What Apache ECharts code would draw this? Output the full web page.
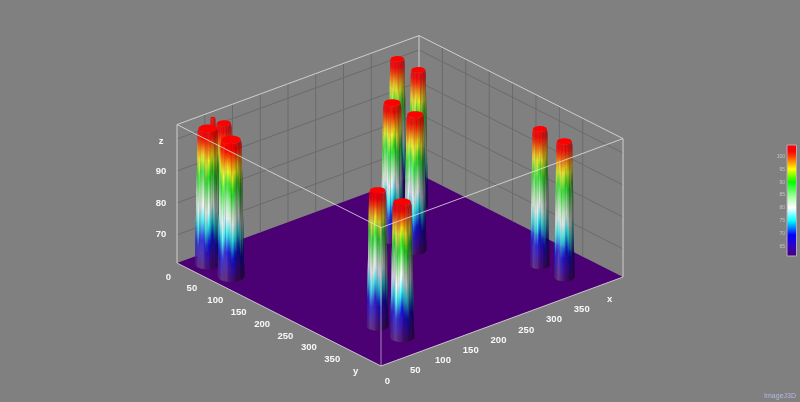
<!DOCTYPE html>
<html><head><meta charset="utf-8">
<style>html,body{margin:0;padding:0;background:#808080}#c{width:800px;height:402px;filter:blur(.55px)}</style>
<script src="https://cdn.jsdelivr.net/npm/echarts@6/dist/echarts.min.js"></script>
</head><body><div id="c"></div>
<script>
// ---------- data ----------
const peakX   = [79, 82, 274, 275, 370, 369, 374, 375, 30, 29, 52, 55];
const peakY   = [335, 384, 135, 183, 32, 78, 332, 383, 30, 81, 15, 35];
const peakTop = [103.6, 103.4, 103.8, 103.6, 103.8, 103.8, 103.8, 103.6, 103.6, 103.9, 104.4, 104];
const peakRad = [11.7, 13, 12.4, 12, 10, 10.3, 10.3, 11, 13.8, 14.5, 3.5, 10.5];
const xTicks = [0, 50, 100, 150, 200, 250, 300, 350];
const yTicks = [0, 50, 100, 150, 200, 250, 300, 350];
const zTicks = [70, 80, 90];
const zGrid  = [70, 80, 90, 100];
const legendTicks = [65, 70, 75, 80, 85, 90, 95, 100];
const xMax = 436, yMax = 436, zMin = 61.2, zMax = 104.5;
const ramp = [[61.2,[75,0,115]],[65,[50,0,190]],[69.5,[0,0,255]],[75,[0,255,255]],[80,[255,255,255]],[84,[170,255,170]],[90,[0,255,0]],[95,[255,255,0]],[100,[255,60,0]],[102,[255,0,0]],[104.5,[255,0,0]]];

// ---------- view ----------
const O = [177, 263], EX = [242/xMax, -89/xMax], EY = [204/yMax, 103/yMax], EZ = 138.4/(zMax-zMin);
const proj = (x,y,z) => [O[0]+x*EX[0]+y*EY[0], O[1]+x*EX[1]+y*EY[1]-(z-zMin)*EZ];
function colorAt(z){
  if(z<=ramp[0][0]) return ramp[0][1].slice();
  for(let i=1;i<ramp.length;i++) if(z<=ramp[i][0]){
    const t=(z-ramp[i-1][0])/(ramp[i][0]-ramp[i-1][0]);
    return ramp[i][1].map((c,k)=>ramp[i-1][1][k]+(c-ramp[i-1][1][k])*t);
  }
  return ramp[ramp.length-1][1].slice();
}
const css = c => 'rgb('+c.map(v=>Math.max(0,Math.min(255,Math.round(v)))).join(',')+')';
const line = (api,a,b,color,w) => { const p=api.coord(a), q=api.coord(b);
  return {type:'line',shape:{x1:p[0],y1:p[1],x2:q[0],y2:q[1]},style:{stroke:color,lineWidth:w||1}}; };
const txt = (api,pt,dx,dy,s) => { const p=api.coord(pt);
  return {type:'text',x:p[0]+dx,y:p[1]+dy,style:{text:String(s),fill:'#f8f8f8',font:'bold 9.5px "Liberation Sans"',align:'center',verticalAlign:'middle'}}; };

function renderBack(params,api){
  const ch=[]; const g='#6b6b6b';
  ch.push({type:'polygon',shape:{points:[proj(0,0,zMin),proj(xMax,0,zMin),proj(xMax,yMax,zMin),proj(0,yMax,zMin)].map(p=>api.coord(p))},style:{fill:css(colorAt(zMin))}});
  xTicks.forEach(x=>{ if(x>0) ch.push(line(api,proj(x,0,zMin),proj(x,0,zMax),g)); });
  yTicks.forEach(y=>{ if(y>0) ch.push(line(api,proj(xMax,y,zMin),proj(xMax,y,zMax),g)); });
  zGrid.forEach(z=>{ ch.push(line(api,proj(0,0,z),proj(xMax,0,z),g)); ch.push(line(api,proj(xMax,0,z),proj(xMax,yMax,z),g)); });
  const e='#cfcfcf';
  ch.push(line(api,proj(0,0,zMax),proj(xMax,0,zMax),e));
  ch.push(line(api,proj(xMax,0,zMax),proj(xMax,yMax,zMax),e));
  ch.push(line(api,proj(xMax,0,zMin),proj(xMax,0,zMax),e));
  ch.push(line(api,proj(0,0,zMin),proj(0,0,zMax),e));
  ch.push(line(api,proj(xMax,yMax,zMin),proj(xMax,yMax,zMax),e));
  return {type:'group',children:ch};
}
function renderPeak(params,api){
  const x=api.value(0), y=api.value(1), top=api.value(2), r=api.value(3), idx=api.value(4);
  const N=64, quads=[], span=Math.hypot(EX[0],EY[0]);
  const zShoulder=top-1.4;
  const rAt=z=> z>=top ? r*0.92 : r*(1.27-0.27*(z-zMin)/(zShoulder-zMin));
  for(let i=0;i<N;i++){
    const a=i/N*2*Math.PI, b=(i+1.3)/N*2*Math.PI, m=(a+b)/2;
    const depth=Math.cos(m)*EX[1]+Math.sin(m)*EY[1];
    if(depth<-0.06) continue;
    quads.push({a,b,m,depth,s:(Math.cos(m)*EX[0]+Math.sin(m)*EY[0])/span});
  }
  quads.sort((p,q)=>p.depth-q.depth);
  const ch=[];
  const at=(t,z)=>{const R=rAt(z); return api.coord(proj(x+R*Math.cos(t),y+R*Math.sin(t),z));};
  quads.forEach(q=>{
    const pts=[at(q.a,zMin),at(q.b,zMin),at(q.b,zShoulder),at(q.b,top),at(q.a,top),at(q.a,zShoulder)];
    const yT=Math.min(pts[3][1],pts[4][1]), yB=Math.max(pts[0][1],pts[1][1]);
    const streak=0.5*Math.sin(q.m*13+idx*2.1)+0.5*Math.sin(q.m*37+idx*4.7);
    const smear=1.4*Math.sin(q.m*7+idx*1.3)+0.8*Math.sin(q.m*17+idx*3.7);
    const dark=0.93-0.6*Math.pow(Math.max(0,q.s+0.1)/1.1,1.2)+0.16*streak;
    const white0=0.02+0.2*Math.exp(-Math.pow((q.s+0.55)/0.4,2))+0.05*Math.max(0,-streak);
    const stops=[];
    for(let k=0;k<=24;k++){
      const t=k/24, z=top+(zMin-top)*t;
      const fade=Math.min(1,Math.max(0,(top-z-3)/9));
      const low=Math.min(1,Math.max(0,(z-zMin)/5));
      const base=colorAt(z+smear*fade*(0.3+0.7*low));
      const lum=0.3*base[0]+0.59*base[1]+0.11*base[2];
      const desat=base.map(c=>c+(lum-c)*0.15*fade);
      const w=white0*fade, mm=1+(dark-1)*(0.55+0.45*fade);
      stops.push({offset:t,color:css(desat.map(c=>(c+(255-c)*w)*mm))});
    }
    ch.push({type:'polygon',shape:{points:pts},style:{fill:new echarts.graphic.LinearGradient(0,yT,0,yB,stops,true)}});
  });
  const cap=[]; for(let i=0;i<36;i++){cap.push(at(i/36*2*Math.PI,top));}
  ch.push({type:'polygon',shape:{points:cap},style:{fill:'#ff0000'}});
  return {type:'group',children:ch};
}
function renderFront(params,api){
  const e='rgba(226,226,226,0.8)', ch=[];
  ch.push(line(api,proj(0,0,zMax),proj(0,yMax,zMax),e));
  ch.push(line(api,proj(0,yMax,zMax),proj(xMax,yMax,zMax),e));
  ch.push(line(api,proj(0,yMax,zMin),proj(0,yMax,zMax),'rgba(226,226,226,0.6)'));
  ch.push(line(api,proj(0,0,zMin),proj(0,yMax,zMin),e));
  ch.push(line(api,proj(0,yMax,zMin),proj(xMax,yMax,zMin),e));
  xTicks.forEach(x=>ch.push(txt(api,proj(x,yMax,zMin),6.5,15,x)));
  yTicks.forEach(y=>ch.push(txt(api,proj(0,y,zMin),-8.5,14,y)));
  zTicks.forEach(z=>ch.push(txt(api,proj(0,0,z),-16,0,z)));
  ch.push(txt(api,proj(400,yMax,zMin),6.5,15,'x'));
  ch.push(txt(api,proj(0,400,zMin),-8.5,14,'y'));
  ch.push(txt(api,proj(0,0,100),-16,2,'z'));
  return {type:'group',children:ch};
}
function renderBar(params,api){
  const a=api.coord([0,zMax]), b=api.coord([1,zMin]);
  const stops=ramp.map(s=>({offset:(zMax-s[0])/(zMax-zMin),color:css(s[1])})).reverse();
  return {type:'rect',shape:{x:a[0],y:a[1],width:b[0]-a[0],height:b[1]-a[1]},style:{fill:new echarts.graphic.LinearGradient(0,0,0,1,stops),stroke:'#b9a7bb',lineWidth:1}};
}
const peaks = peakX.map((x,i)=>[x,peakY[i],peakTop[i],peakRad[i],i]).sort((p,q)=>proj(p[0],p[1],zMin)[1]-proj(q[0],q[1],zMin)[1]);

const chart = echarts.init(document.getElementById('c'),null,{renderer:'canvas'});
chart.setOption({
  animation:false, backgroundColor:'#808080',
  grid:[{left:0,top:0,width:800,height:402},{left:787,top:145,width:9.5,height:111}],
  xAxis:[{type:'value',gridIndex:0,min:0,max:800,show:false},{type:'value',gridIndex:1,min:0,max:1,show:false}],
  yAxis:[{type:'value',gridIndex:0,min:402,max:0,inverse:false,show:false},
    {type:'value',gridIndex:1,min:zMin,max:zMax,position:'left',splitLine:{show:false},axisLine:{show:false},axisTick:{show:false},
     axisLabel:{customValues:legendTicks,color:'#c4c4c4',fontSize:5,margin:2,fontFamily:'Liberation Sans'}}],
  series:[
    {type:'custom',name:'box',xAxisIndex:0,yAxisIndex:0,coordinateSystem:'cartesian2d',clip:false,silent:true,z:1,renderItem:renderBack,data:[[0,0]]},
    {type:'custom',name:'z',xAxisIndex:0,yAxisIndex:0,coordinateSystem:'cartesian2d',clip:false,silent:true,z:2,renderItem:renderPeak,data:peaks},
    {type:'custom',name:'frame',xAxisIndex:0,yAxisIndex:0,coordinateSystem:'cartesian2d',clip:false,silent:true,z:3,renderItem:renderFront,data:[[0,0]]},
    {type:'custom',name:'legend',xAxisIndex:1,yAxisIndex:1,coordinateSystem:'cartesian2d',clip:false,silent:true,z:3,renderItem:renderBar,data:[[0,zMin]]}
  ],
  graphic:[{type:'text',right:4,bottom:2,style:{text:'ImageJ3D',fill:'#b5b5e8',font:'7px "Liberation Sans"'}}]
});
</script></body></html>
